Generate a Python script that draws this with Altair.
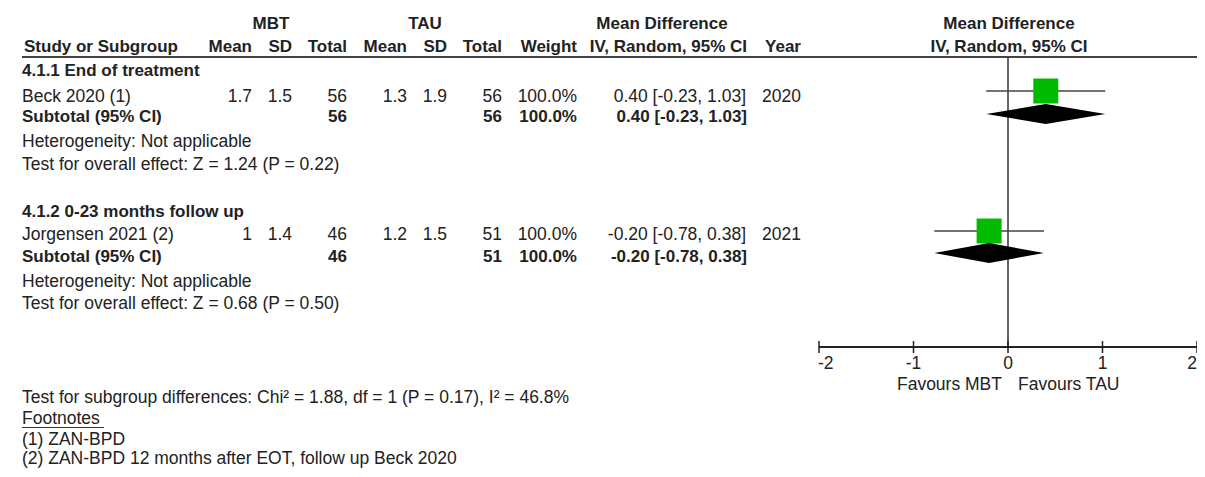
import altair as alt
import pandas as pd

# ---------------- data ----------------
subgroups = ["4.1.1 End of treatment", "4.1.2 0-23 months follow up"]
studies = ["Beck 2020 (1)", "Jorgensen 2021 (2)"]
mbt_mean = [1.7, 1.0]
mbt_sd = [1.5, 1.4]
mbt_n = [56, 46]
tau_mean = [1.3, 1.2]
tau_sd = [1.9, 1.5]
tau_n = [56, 51]
weights = [100.0, 100.0]
md = [0.40, -0.20]
ci_lo = [-0.23, -0.78]
ci_hi = [1.03, 0.38]
years = [2020, 2021]

sub_mbt_n = [56, 46]
sub_tau_n = [56, 51]
sub_weight = [100.0, 100.0]
sub_md = [0.40, -0.20]
sub_lo = [-0.23, -0.78]
sub_hi = [1.03, 0.38]

heterogeneity = ["Heterogeneity: Not applicable", "Heterogeneity: Not applicable"]
overall_effect = ["Test for overall effect: Z = 1.24 (P = 0.22)",
                  "Test for overall effect: Z = 0.68 (P = 0.50)"]
subgroup_test = "Test for subgroup differences: Chi\u00b2 = 1.88, df = 1 (P = 0.17), I\u00b2 = 46.8%"
footnote_title = "Footnotes"
footnotes = ["(1) ZAN-BPD", "(2) ZAN-BPD 12 months after EOT, follow up Beck 2020"]

axis_ticks = [-2, -1, 0, 1, 2]
favours_left = "Favours MBT"
favours_right = "Favours TAU"

# ---------------- layout (image pixel positions) ----------------
W, H = 1189, 461
OFF = 8
FONT = "Liberation Sans"
TXT = "#222222"
BOLD_SIZE = 17
PLAIN_SIZE = 17.5
DY = 1.5

COLX = {"study": 22, "m_mean": 252, "m_sd": 292, "m_n": 347, "t_mean": 407,
        "t_sd": 447, "t_n": 502, "weight": 577, "ci": 746, "year": 801}
Y_H1, Y_H2, Y_LINE = 22, 45, 57
Y_SG = [69, 210]
Y_STUDY = [95, 233]
Y_SUB = [115, 255]
Y_HET = [140, 280]
Y_TEST = [163, 302]
Y_FOREST_STUDY = [91, 231]
Y_FOREST_DIAMOND = [114, 253]
DIAMOND_HALF = 10
Y_AXIS, Y_TICKLAB, Y_FAV = 347, 362, 383
Y_SGTEST, Y_FNHEAD = 396, 417
Y_FN = [438, 457.5]
FOREST_RANGE = [819 - OFF, 1197 - OFF]


def p(v):
    return v - OFF


recs = []


def add(txt, x, y, anchor="left", bold=False):
    recs.append(dict(txt=txt, tx=p(x), ty=p(y), anc=anchor, bld=bold))


def fmt_ci(m, lo, hi):
    return f"{m:.2f} [{lo:.2f}, {hi:.2f}]"


# headers
add("MBT", 271, Y_H1, "center", True)
add("TAU", 425, Y_H1, "center", True)
add("Mean Difference", 662, Y_H1, "center", True)
add("Mean Difference", 1009, Y_H1, "center", True)
add("Study or Subgroup", COLX["study"] + 2, Y_H2, "left", True)
for key, lab in [("m_mean", "Mean"), ("m_sd", "SD"), ("m_n", "Total"), ("t_mean", "Mean"),
                 ("t_sd", "SD"), ("t_n", "Total"), ("weight", "Weight"),
                 ("ci", "IV, Random, 95% CI"), ("year", "Year")]:
    add(lab, COLX[key] + (1 if key == "ci" else 0), Y_H2, "right", True)
add("IV, Random, 95% CI", 1009, Y_H2, "center", True)

for i in range(len(studies)):
    add(subgroups[i], COLX["study"], Y_SG[i], "left", True)
    add(studies[i], COLX["study"], Y_STUDY[i], "left")
    add(f"{mbt_mean[i]:g}", COLX["m_mean"], Y_STUDY[i], "right")
    add(f"{mbt_sd[i]:g}", COLX["m_sd"], Y_STUDY[i], "right")
    add(f"{mbt_n[i]}", COLX["m_n"], Y_STUDY[i], "right")
    add(f"{tau_mean[i]:g}", COLX["t_mean"], Y_STUDY[i], "right")
    add(f"{tau_sd[i]:g}", COLX["t_sd"], Y_STUDY[i], "right")
    add(f"{tau_n[i]}", COLX["t_n"], Y_STUDY[i], "right")
    add(f"{weights[i]:.1f}%", COLX["weight"], Y_STUDY[i], "right")
    add(fmt_ci(md[i], ci_lo[i], ci_hi[i]), COLX["ci"], Y_STUDY[i], "right")
    add(f"{years[i]}", COLX["year"], Y_STUDY[i], "right")
    add("Subtotal (95% CI)", COLX["study"], Y_SUB[i], "left", True)
    add(f"{sub_mbt_n[i]}", COLX["m_n"], Y_SUB[i], "right", True)
    add(f"{sub_tau_n[i]}", COLX["t_n"], Y_SUB[i], "right", True)
    add(f"{sub_weight[i]:.1f}%", COLX["weight"], Y_SUB[i], "right", True)
    add(fmt_ci(sub_md[i], sub_lo[i], sub_hi[i]), COLX["ci"] + 1, Y_SUB[i], "right", True)
    add(heterogeneity[i], COLX["study"], Y_HET[i], "left")
    add(overall_effect[i], COLX["study"], Y_TEST[i], "left")

add(subgroup_test, COLX["study"], Y_SGTEST, "left")
add(footnote_title, COLX["study"], Y_FNHEAD, "left")
for i, f in enumerate(footnotes):
    add(f, COLX["study"], Y_FN[i], "left")

text_df = pd.DataFrame(recs)


def xid(field):
    return alt.X(field, scale=alt.Scale(domain=[0, W], range=[0, W], nice=False, zero=False), axis=None)


YS = alt.Scale(domain=[0, H], range=[0, H], nice=False, zero=False)
XF = alt.Scale(domain=[-2, 2], range=FOREST_RANGE, nice=False, zero=False)

layers = []
for anchor in ["left", "center", "right"]:
    for bold in [True, False]:
        sub = text_df[(text_df["anc"] == anchor) & (text_df["bld"] == bold)]
        if len(sub) == 0:
            continue
        layers.append(
            alt.Chart(sub).mark_text(
                align=anchor, baseline="middle", font=FONT, dy=DY,
                fontSize=BOLD_SIZE if bold else PLAIN_SIZE,
                fontWeight="bold" if bold else "normal", color=TXT
            ).encode(x=xid("tx:Q"), y=alt.Y("ty:Q", scale=YS, axis=None), text="txt:N")
        )

# header rule and footnote underline (layout lines)
hl_df = pd.DataFrame({"x1": [p(22)], "x2": [p(1197)], "ly": [p(Y_LINE)]})
layers.append(alt.Chart(hl_df).mark_rule(color="#444444", strokeWidth=2).encode(
    x=xid("x1:Q"), x2="x2:Q", y=alt.Y("ly:Q", scale=YS, axis=None)))
ul_df = pd.DataFrame({"x1": [p(22)], "x2": [p(104)], "ly": [p(Y_FNHEAD + 10.5)]})
layers.append(alt.Chart(ul_df).mark_rule(color="#333333", strokeWidth=1).encode(
    x=xid("x1:Q"), x2="x2:Q", y=alt.Y("ly:Q", scale=YS, axis=None)))

# ---------------- forest panel ----------------
zero_df = pd.DataFrame({"v": [0], "ya": [p(Y_LINE)], "yb": [p(Y_AXIS)]})
layers.append(alt.Chart(zero_df).mark_rule(color="#333333", strokeWidth=1.5).encode(
    x=alt.X("v:Q", scale=XF, axis=None), y=alt.Y("ya:Q", scale=YS, axis=None), y2="yb:Q"))

study_df = pd.DataFrame({"md": md, "lo": ci_lo, "hi": ci_hi, "fy": [p(v) for v in Y_FOREST_STUDY]})
layers.append(alt.Chart(study_df).mark_rule(color="#444444", strokeWidth=1.5).encode(
    x=alt.X("lo:Q", scale=XF, axis=None), x2="hi:Q", y=alt.Y("fy:Q", scale=YS, axis=None)))
layers.append(alt.Chart(study_df).mark_square(color="#00BB00", size=625, opacity=1, filled=True).encode(
    x=alt.X("md:Q", scale=XF, axis=None), y=alt.Y("fy:Q", scale=YS, axis=None)))

drecs = []
for i in range(len(sub_md)):
    yc = p(Y_FOREST_DIAMOND[i])
    drecs.append(dict(g=i, dx=sub_lo[i], yt=yc, yb=yc))
    drecs.append(dict(g=i, dx=sub_md[i], yt=yc - DIAMOND_HALF, yb=yc + DIAMOND_HALF))
    drecs.append(dict(g=i, dx=sub_hi[i], yt=yc, yb=yc))
diamond_df = pd.DataFrame(drecs)
layers.append(alt.Chart(diamond_df).mark_area(color="#000000", opacity=1, interpolate="linear").encode(
    x=alt.X("dx:Q", scale=XF, axis=None), y=alt.Y("yt:Q", scale=YS, axis=None), y2="yb:Q",
    detail="g:N"))

# axis
axis_df = pd.DataFrame({"a": [axis_ticks[0]], "b": [axis_ticks[-1]], "ay": [p(Y_AXIS)]})
layers.append(alt.Chart(axis_df).mark_rule(color="#222222", strokeWidth=2).encode(
    x=alt.X("a:Q", scale=XF, axis=None), x2="b:Q", y=alt.Y("ay:Q", scale=YS, axis=None)))
ticks_df = pd.DataFrame({"t": axis_ticks, "lab": [str(t) for t in axis_ticks],
                         "ty1": [p(Y_AXIS - 6)] * 5, "ty2": [p(Y_AXIS + 6)] * 5,
                         "ly": [p(Y_TICKLAB)] * 5,
                         "pos": ["first"] + ["mid"] * 3 + ["last"]})
layers.append(alt.Chart(ticks_df).mark_rule(color="#222222", strokeWidth=1.5).encode(
    x=alt.X("t:Q", scale=XF, axis=None), y=alt.Y("ty1:Q", scale=YS, axis=None), y2="ty2:Q"))
for pos, anchor, dx in [("first", "left", -1), ("mid", "center", 0), ("last", "right", 0)]:
    layers.append(alt.Chart(ticks_df[ticks_df["pos"] == pos]).mark_text(
        align=anchor, baseline="middle", font=FONT, fontSize=PLAIN_SIZE, color=TXT, dx=dx, dy=DY
    ).encode(x=alt.X("t:Q", scale=XF, axis=None), y=alt.Y("ly:Q", scale=YS, axis=None), text="lab:N"))

fav_df = pd.DataFrame({"v": [0, 0], "lab": [favours_left, favours_right], "fy": [p(Y_FAV)] * 2})
layers.append(alt.Chart(fav_df[fav_df["lab"] == favours_left]).mark_text(
    align="right", baseline="middle", font=FONT, fontSize=PLAIN_SIZE, color=TXT, dx=-6, dy=DY
).encode(x=alt.X("v:Q", scale=XF, axis=None), y=alt.Y("fy:Q", scale=YS, axis=None), text="lab:N"))
layers.append(alt.Chart(fav_df[fav_df["lab"] == favours_right]).mark_text(
    align="left", baseline="middle", font=FONT, fontSize=PLAIN_SIZE, color=TXT, dx=10, dy=DY
).encode(x=alt.X("v:Q", scale=XF, axis=None), y=alt.Y("fy:Q", scale=YS, axis=None), text="lab:N"))

chart = alt.layer(*layers).resolve_scale(x="independent").properties(
    width=W, height=H, padding=0, autosize=alt.AutoSizeParams(type="none"), background="white"
).configure_view(stroke=None)

chart.save("out.html", embed_options={"renderer": "svg", "actions": False})
